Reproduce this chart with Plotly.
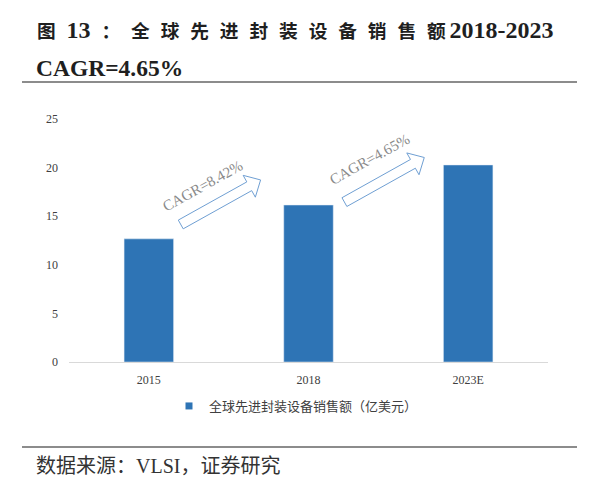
import numpy as np
import plotly.graph_objects as go

# ---------------------------------------------------------------------------
# data
# ---------------------------------------------------------------------------
categories = ['2015', '2018', '2023E']
sales = [12.67, 16.15, 20.27]
series_name = '全球先进封装设备销售额（亿美元）'
y_ticks = [0, 5, 10, 15, 20, 25]
cagr_labels = ['CAGR=8.42%', 'CAGR=4.65%']

# ---------------------------------------------------------------------------
# layout constants (pixel box of the plot area)
# ---------------------------------------------------------------------------
W, H = 602, 487
L, R, T, B = 69, 548, 119, 362
Y_MAX = 25

BLUE = '#2e74b5'
SERIF = 'Liberation Serif, Times New Roman, Noto Sans CJK SC'

# arrow tail / tip and label centre, in (category index, value) units
arrow_tails = [(0.20, 14.15), (1.225, 16.45)]
arrow_tips = [(0.70, 18.73), (1.725, 21.04)]
label_pos = [(0.335, 18.15), (1.385, 20.90)]


def to_px(xv, yv):
  return L + (xv + 0.5) * (R - L) / len(categories), B - yv * (B - T) / Y_MAX


def px_to_paper(px, py):
  return (px - L) / (R - L), (B - py) / (B - T)


def block_arrow(tail, tip, shaft=5.0, head=12.5, head_len=13.0):
  p0 = np.array(to_px(*tail))
  p1 = np.array(to_px(*tip))
  d = (p1 - p0) / np.linalg.norm(p1 - p0)
  n = np.array([-d[1], d[0]])
  neck = p1 - d * head_len
  pts = [p0 + n * shaft, neck + n * shaft, neck + n * head, p1,
         neck - n * head, neck - n * shaft, p0 - n * shaft]
  pts = [px_to_paper(*p) for p in pts]
  return 'M' + 'L'.join(f'{x:.4f},{y:.4f}' for x, y in pts) + 'Z'


fig = go.Figure()
fig.add_trace(
  go.Bar(
    x=categories,
    y=sales,
    width=0.31,
    marker_color=BLUE,
    showlegend=False,
  )
)
# legend entry with a small square marker
fig.add_trace(
  go.Scatter(
    x=[None], y=[None],
    mode='markers',
    marker=dict(symbol='square', size=7, color=BLUE),
    name=series_name,
  )
)

for tail, tip in zip(arrow_tails, arrow_tips):
  fig.add_shape(
    type='path',
    path=block_arrow(tail, tip),
    xref='paper', yref='paper',
    line=dict(color='#6f9fd3', width=1),
    fillcolor='white',
  )

for text, (xv, yv) in zip(cagr_labels, label_pos):
  px, py = px_to_paper(*to_px(xv, yv))
  fig.add_annotation(
    x=px, y=py, xref='paper', yref='paper',
    xanchor='center', yanchor='middle',
    text=text, showarrow=False, textangle=-29,
    font=dict(family=SERIF, size=15, color='#8a8a8a'),
  )

# title block
sp = '\u2002\u200a'
title_1 = ('<b>图' + sp + '<span style="font-size:24px">13</span>' + sp + '：' + sp
           + sp.join('全球先进封装设备销售额')
           + '\u2009<span style="font-size:24px">2018-2023</span></b>')
tx, ty = px_to_paper(35, 30)
fig.add_annotation(
  x=tx, y=ty, xref='paper', yref='paper', xanchor='left', yanchor='middle',
  text=title_1, showarrow=False,
  font=dict(family=SERIF, size=18.7, color='#1f1f1f'),
)
tx, ty = px_to_paper(34, 68)
fig.add_annotation(
  x=tx, y=ty, xref='paper', yref='paper', xanchor='left', yanchor='middle',
  text='<b>CAGR=4.65%</b>', showarrow=False,
  font=dict(family=SERIF, size=23.5, color='#1f1f1f'),
)
tx, ty = px_to_paper(34, 466)
fig.add_annotation(
  x=tx, y=ty, xref='paper', yref='paper', xanchor='left', yanchor='middle',
  text='数据来源：VLSI，证券研究', showarrow=False,
  font=dict(family=SERIF, size=20, color='#333333'),
)

for py in [82, 447]:
  x0, y0 = px_to_paper(22, py)
  x1, _ = px_to_paper(577, py)
  fig.add_shape(
    type='line', xref='paper', yref='paper',
    x0=x0, x1=x1, y0=y0, y1=y0,
    line=dict(color='#8c8c8c', width=2),
  )

lx, ly = px_to_paper(296, 406)
fig.update_layout(
  width=W,
  height=H,
  margin=dict(l=L, r=W - R, t=T, b=H - B, pad=0),
  plot_bgcolor='white',
  paper_bgcolor='white',
  showlegend=True,
  legend=dict(
    orientation='h',
    x=lx, y=ly, xanchor='center', yanchor='middle',
    font=dict(family=SERIF, size=13, color='#404040'),
    itemwidth=30,
  ),
  xaxis=dict(
    range=[-0.5, len(categories) - 0.5],
    showline=True, linecolor='#d9d9d9', linewidth=1,
    showgrid=False, ticks='',
    ticklabelstandoff=7,
    tickfont=dict(family=SERIF, size=12, color='#404040'),
  ),
  yaxis=dict(
    range=[0, Y_MAX],
    tickvals=y_ticks,
    showgrid=False, zeroline=False, showline=False, ticks='',
    ticklabelstandoff=10,
    tickfont=dict(family=SERIF, size=12, color='#404040'),
  ),
)

fig.write_html(
  'out.html',
  config={'displayModeBar': False},
  post_script="document.body.style.margin='0px';",
)
